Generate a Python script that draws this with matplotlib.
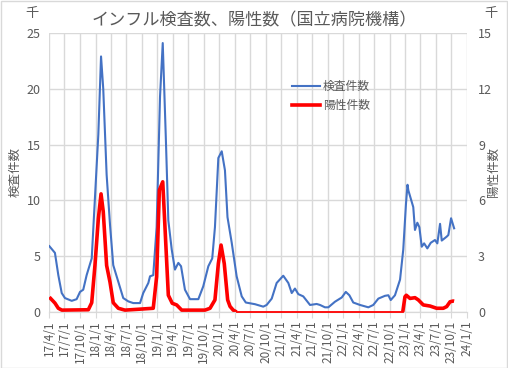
import matplotlib
matplotlib.use("Agg")
import matplotlib.pyplot as plt
import pandas as pd
from matplotlib.lines import Line2D
from matplotlib.patches import Rectangle

plt.rcParams["font.family"] = ["Noto Sans CJK JP", "DejaVu Sans"]

# 検査件数 (千件, 左軸)
test_dates = [
    "2017-04-03", "2017-05-06", "2017-05-26", "2017-06-15", "2017-07-04", "2017-08-13",
    "2017-09-11", "2017-10-01", "2017-10-20", "2017-11-09", "2017-12-09", "2017-12-28",
    "2018-01-17", "2018-02-02", "2018-02-15", "2018-03-07", "2018-03-27", "2018-04-15",
    "2018-05-15", "2018-06-13", "2018-07-13", "2018-08-11", "2018-09-20", "2018-10-09",
    "2018-11-08", "2018-11-18", "2018-12-07", "2018-12-27", "2019-01-16", "2019-02-01",
    "2019-02-19", "2019-03-06", "2019-03-26", "2019-04-14", "2019-05-04", "2019-05-20",
    "2019-06-12", "2019-07-12", "2019-08-30", "2019-09-28", "2019-10-28", "2019-11-20",
    "2019-12-06", "2019-12-26", "2020-01-15", "2020-02-03", "2020-02-18", "2020-03-14",
    "2020-04-12", "2020-05-12", "2020-06-05", "2020-07-29", "2020-09-16", "2020-10-06",
    "2020-11-05", "2020-12-04", "2021-01-12", "2021-02-11", "2021-03-03", "2021-03-22",
    "2021-04-11", "2021-05-10", "2021-06-19", "2021-07-28", "2021-08-17", "2021-09-15",
    "2021-10-05", "2021-11-13", "2021-12-23", "2022-01-16", "2022-02-06", "2022-03-01",
    "2022-04-10", "2022-05-29", "2022-06-27", "2022-07-27", "2022-09-04", "2022-09-24",
    "2022-10-08", "2022-11-02", "2022-12-02", "2022-12-21", "2023-01-06", "2023-01-15",
    "2023-01-20", "2023-02-18", "2023-02-28", "2023-03-14", "2023-03-26", "2023-04-09",
    "2023-04-23", "2023-05-12", "2023-06-01", "2023-06-26", "2023-07-10", "2023-07-26",
    "2023-08-05", "2023-09-03", "2023-09-13", "2023-09-29", "2023-10-17",
]
test_values = [
    5.9, 5.3, 3.3, 1.7, 1.25, 1.0,
    1.15, 1.8, 2.0, 3.3, 4.8, 10.2,
    15.9, 22.9, 20.0, 12.3, 7.8, 4.2,
    2.7, 1.25, 0.95, 0.8, 0.8, 1.7,
    2.6, 3.2, 3.3, 7.6, 19.3, 24.1,
    15.7, 8.2, 5.6, 3.8, 4.4, 4.1,
    2.0, 1.15, 1.15, 2.3, 4.1, 4.8,
    7.6, 13.8, 14.4, 12.7, 8.5, 6.2,
    3.2, 1.4, 0.85, 0.7, 0.48, 0.63,
    1.2, 2.6, 3.25, 2.6, 1.7, 2.1,
    1.6, 1.4, 0.63, 0.72, 0.63, 0.42,
    0.42, 0.92, 1.3, 1.8, 1.5, 0.85,
    0.63, 0.42, 0.63, 1.2, 1.45, 1.5,
    1.07, 1.5, 2.9, 5.6, 9.7, 11.4,
    10.9, 9.4, 7.35, 8.0, 7.6, 5.85,
    6.15, 5.7, 6.2, 6.45, 6.15, 7.9,
    6.4, 6.75, 6.9, 8.4, 7.5,
]

# 陽性件数 (千件, 右軸)
pos_dates = [
    "2017-04-03", "2017-05-06", "2017-05-26", "2017-06-16", "2017-11-19", "2017-12-09",
    "2017-12-28", "2018-01-17", "2018-02-02", "2018-02-15", "2018-03-07", "2018-03-27",
    "2018-04-15", "2018-05-15", "2018-06-23", "2018-12-07", "2018-12-27", "2019-01-12",
    "2019-02-01", "2019-02-14", "2019-03-06", "2019-03-29", "2019-04-24", "2019-05-24",
    "2019-10-08", "2019-11-07", "2019-12-06", "2019-12-26", "2020-01-11", "2020-01-30",
    "2020-02-19", "2020-03-04", "2020-03-23", "2020-04-12", "2022-12-18", "2022-12-31",
    "2023-01-08", "2023-01-30", "2023-02-28", "2023-03-20", "2023-04-18", "2023-05-28",
    "2023-07-06", "2023-08-14", "2023-09-03", "2023-09-23", "2023-10-12", "2023-10-17",
]
pos_values = [
    0.8, 0.48, 0.2, 0.1, 0.12, 0.5,
    2.5, 5.0, 6.35, 5.4, 2.5, 1.6,
    0.5, 0.2, 0.1, 0.2, 1.9, 6.55,
    7.0, 4.6, 0.9, 0.47, 0.38, 0.1,
    0.1, 0.2, 0.65, 2.6, 3.6, 2.6,
    0.65, 0.3, 0.1, 0.0, 0.0, 0.82,
    0.9, 0.73, 0.77, 0.65, 0.38, 0.32,
    0.2, 0.2, 0.29, 0.55, 0.59, 0.58,
]

tick_dates = pd.date_range("2017-04-01", "2024-01-01", freq="QS-JAN")
tick_labels = [f"{d.year % 100}/{d.month}/{d.day}" for d in tick_dates]

GRAY = "#595959"
GRID = "#D9D9D9"
BLUE = "#4472C4"
RED = "#FF0000"

fig = plt.figure(figsize=(5.08, 3.68), dpi=100)
fig.patches.append(Rectangle((0.001, 0.001), 0.997, 0.997, transform=fig.transFigure,
                             fill=False, edgecolor=GRID, linewidth=1))
ax = fig.add_axes([49 / 508, 1 - 312 / 368, 418 / 508, 279 / 368])
ax2 = ax.twinx()

ax.plot(pd.to_datetime(test_dates), test_values, color=BLUE, lw=1.5)

# the stretch lying on the axis line (value 0) shows only half its width
pos = pd.Series(pos_values, index=pd.to_datetime(pos_dates))
zero_idx = [i for i, v in enumerate(pos_values) if v == 0]
z0, z1 = zero_idx[0], zero_idx[-1]
ax2.plot(pos.index[: z0 + 1], pos.values[: z0 + 1], color=RED, lw=2.6, solid_capstyle="butt")
ax2.plot(pos.index[z0 : z1 + 1], pos.values[z0 : z1 + 1], color=RED, lw=1.3,
         clip_on=False, zorder=3)
ax2.plot(pos.index[z1:], pos.values[z1:], color=RED, lw=2.6, solid_capstyle="butt")

ax.set_xlim(tick_dates[0], tick_dates[-1])
ax.set_ylim(0, 25)
ax2.set_ylim(0, 15)
ax.set_yticks(range(0, 26, 5))
ax2.set_yticks(range(0, 16, 3))
ax.set_xticks(tick_dates)
ax.set_xticklabels(tick_labels, rotation=90, fontsize=8.5, color=GRAY)

ax.grid(True, color=GRID, lw=1)
ax.set_axisbelow(True)
for a in (ax, ax2):
    for s in ("top", "left", "right"):
        a.spines[s].set_visible(False)
    a.spines["bottom"].set_color(GRID)
ax.tick_params(axis="x", length=4, color=GRID, pad=2)
ax.tick_params(axis="y", length=0, labelsize=9, labelcolor=GRAY, pad=6)
ax2.tick_params(axis="y", length=0, labelsize=9, labelcolor=GRAY, pad=8)

fig.text(15 / 508, 1 - 172 / 368, "検査件数", rotation=90, ha="center", va="center",
         fontsize=9, color=GRAY)
fig.text(493 / 508, 1 - 172 / 368, "陽性件数", rotation=90, ha="center", va="center",
         fontsize=9, color=GRAY)

fig.text(0.5, 1 - 20 / 368, "インフル検査数、陽性数（国立病院機構）", ha="center", va="center",
         fontsize=12.3, color=GRAY)
fig.text(32 / 508, 1 - 14 / 368, "千", ha="center", va="center", fontsize=9.5, color=GRAY)
fig.text(491 / 508, 1 - 14 / 368, "千", ha="center", va="center", fontsize=9.5, color=GRAY)

handles = [Line2D([], [], color=BLUE, lw=1.5), Line2D([], [], color=RED, lw=2.6)]
ax2.legend(handles, ["検査件数", "陽性件数"], loc="upper left",
           bbox_to_anchor=(292 / 508, 1 - 80 / 368), bbox_transform=fig.transFigure,
           frameon=False, fontsize=8.5, labelcolor=GRAY, handlelength=2.4,
           handletextpad=0.2, labelspacing=0.5, borderpad=0, borderaxespad=0)

fig.savefig("out.png", dpi=100)
